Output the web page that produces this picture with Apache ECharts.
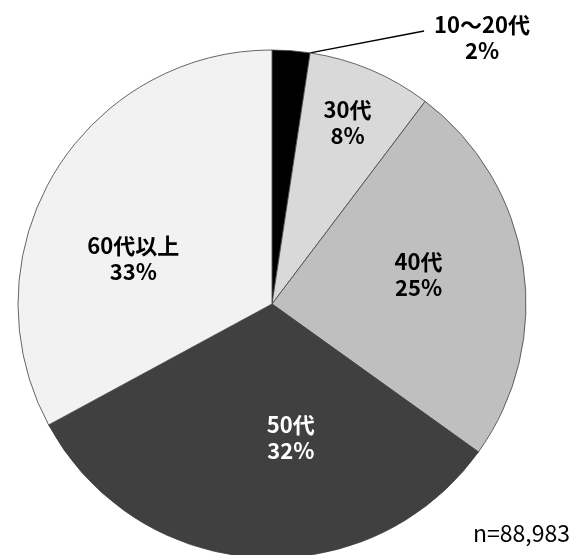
<!DOCTYPE html>
<html>
<head>
<meta charset="utf-8">
<script src="https://cdn.jsdelivr.net/npm/echarts@6/dist/echarts.min.js"></script>
<style>
html,body{margin:0;padding:0;background:#fff;}
#chart{width:581px;height:555px;}
</style>
</head>
<body>
<div id="chart"></div>
<script>
const categories = ['10～20代', '30代', '40代', '50代', '60代以上'];
const values = [2.4, 7.9, 24.6, 32.2, 32.9];
const colors = ['#000000', '#d9d9d9', '#bfbfbf', '#404040', '#f2f2f2'];
const labelColors = ['#000000', '#000000', '#000000', '#ffffff', '#000000'];
const labelOffsets = [[0, 0], [25, -62], [18, -10], [27, 4], [-27, 21]];
const noteText = 'n=88,983';

const FONT = '"Noto Sans CJK JP", "Noto Sans", sans-serif';
const CENTER = [272, 304];
const RADIUS = 254;
const total = values.reduce((a, b) => a + b, 0);

const data = categories.map((name, i) => {
  const item = {
    name: name,
    value: values[i],
    itemStyle: { color: colors[i] },
    label: {
      color: labelColors[i],
      position: i === 0 ? 'outside' : 'inside',
      offset: labelOffsets[i]
    }
  };
  if (i === 0) {
    item.labelLine = { show: true, length: 10, length2: 0, lineStyle: { color: '#000', width: 1.5 } };
  }
  return item;
});

const chart = echarts.init(document.getElementById('chart'), null, { renderer: 'canvas' });
chart.setOption({
  backgroundColor: '#ffffff',
  animation: false,
  title: {
    text: noteText,
    right: 6,
    top: 517,
    textStyle: { fontFamily: FONT, fontSize: 23, fontWeight: 'normal', color: '#000' }
  },
  series: [{
    type: 'pie',
    center: CENTER,
    radius: [0, RADIUS],
    startAngle: 90,
    clockwise: true,
    avoidLabelOverlap: false,
    data: data,
    itemStyle: { borderColor: '#404040', borderWidth: 0.8 },
    label: {
      show: true,
      formatter: p => p.name + '\n' + Math.round(p.percent) + '%',
      fontFamily: FONT,
      fontSize: 22,
      fontWeight: 'bold',
      lineHeight: 26,
      align: 'center'
    },
    labelLine: { show: false },
    labelLayout: function (params) {
      if (params.dataIndex === 0) {
        const x = 482, y = 38;
        const a = values[0] / total * 2 * Math.PI;
        const start = [CENTER[0] + RADIUS * Math.sin(a), CENTER[1] - RADIUS * Math.cos(a)];
        const end = [x - params.labelRect.width / 2 - 10, y - 7];
        return {
          x: x, y: y, align: 'center', verticalAlign: 'middle',
          labelLinePoints: [start, end, end]
        };
      }
      return {};
    },
    emphasis: { disabled: true }
  }]
});
</script>
</body>
</html>
